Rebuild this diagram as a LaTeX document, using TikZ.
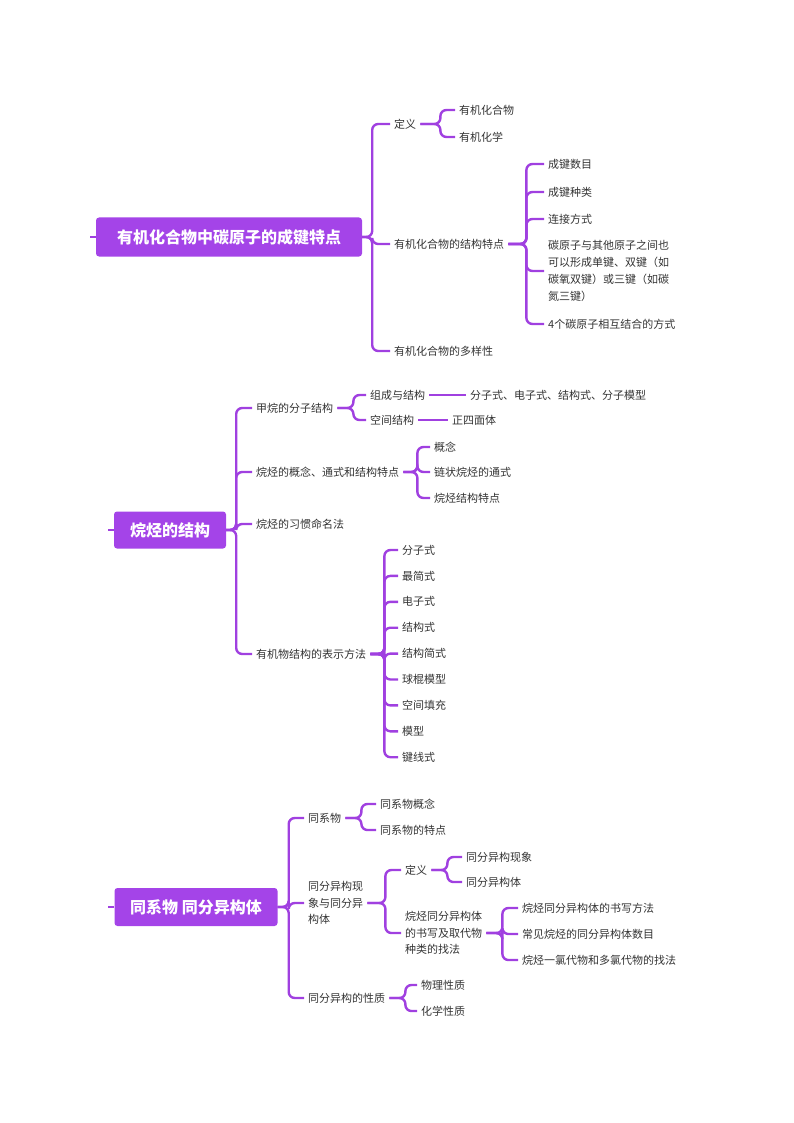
\documentclass[tikz,border=0pt]{standalone}
\usepackage{fontspec}
\setmainfont{Noto Sans CJK SC}
\usetikzlibrary{positioning}
\definecolor{mapPurple}{RGB}{164,68,232}
\definecolor{linkPurple}{RGB}{160,64,224}
\definecolor{leafGray}{RGB}{51,51,51}
\begin{document}
\begin{tikzpicture}[
    x=1pt, y=-1pt,
    every node/.style={font=\fontsize{11}{17}\selectfont, text=leafGray},
    root/.style={fill=mapPurple, rounded corners=3pt, text=white, font=\fontsize{16}{18}\selectfont\bfseries, inner sep=0pt},
    leaf/.style={anchor=west, inner xsep=4pt, inner ysep=2pt},
    multi/.style={leaf, align=left},
    link/.style={draw=linkPurple, line width=2.4pt, rounded corners=6pt},
]
\useasboundingbox (0,0) rectangle (794,1123);
% topic 1
\node[root, minimum width=266, minimum height=39] (R1) at (229,237) {有机化合物中碳原子的成键特点};
\node[leaf] (A1) at (390,124) {定义};
\node[leaf] (A2) at (390,244) {有机化合物的结构特点};
\node[leaf] (A3) at (390,351) {有机化合物的多样性};
\node[leaf] (A1a) at (455,110) {有机化合物};
\node[leaf] (A1b) at (455,137) {有机化学};
\node[leaf] (A2a) at (544,164) {成键数目};
\node[leaf] (A2b) at (544,192) {成键种类};
\node[leaf] (A2c) at (544,219) {连接方式};
\node[multi] (A2d) at (544,271) {碳原子与其他原子之间也\\可以形成单键、双键（如\\碳氧双键）或三键（如碳\\氮三键）};
\node[leaf] (A2e) at (544,324) {4个碳原子相互结合的方式};
\draw[link] (R1.west) -- ++(-6,0);
\foreach \c in {A1,A2,A3} \draw[link] (R1.east) -- ++(10,0) |- (\c.west);
\foreach \c in {A1a,A1b} \draw[link] (A1.east) -- ++(20,0) |- (\c.west);
\foreach \c in {A2a,A2b,A2c,A2d,A2e} \draw[link] (A2.east) -- ++(18,0) |- (\c.west);
% topic 2
\node[root, minimum width=112, minimum height=37] (R2) at (170,530) {烷烃的结构};
\node[leaf] (B1) at (252,408) {甲烷的分子结构};
\node[leaf] (B2) at (252,472) {烷烃的概念、通式和结构特点};
\node[leaf] (B3) at (252,524) {烷烃的习惯命名法};
\node[leaf] (B4) at (252,654) {有机物结构的表示方法};
\node[leaf] (B1a) at (366,395) {组成与结构};
\node[leaf] (B1b) at (366,420) {空间结构};
\node[leaf] (B1c) at (466,395) {分子式、电子式、结构式、分子模型};
\node[leaf] (B1d) at (448,420) {正四面体};
\node[leaf] (B2a) at (430,447) {概念};
\node[leaf] (B2b) at (430,472) {链状烷烃的通式};
\node[leaf] (B2c) at (430,498) {烷烃结构特点};
\draw[link] (R2.west) -- ++(-6,0);
\foreach \c in {B1,B2,B3,B4} \draw[link] (R2.east) -- ++(10,0) |- (\c.west);
\foreach \c in {B1a,B1b} \draw[link] (B1.east) -- ++(16,0) |- (\c.west);
\draw[link] (B1a.east) -- (B1c.west);
\draw[link] (B1b.east) -- (B1d.west);
\foreach \c in {B2a,B2b,B2c} \draw[link] (B2.east) -- ++(14,0) |- (\c.west);
\foreach \t [count=\i] in {分子式,最简式,电子式,结构式,结构简式,球棍模型,空间填充,模型,键线式} {
  \node[leaf] (B4\i) at (398,{550+25.9*(\i-1)}) {\t};
  \draw[link] (B4.east) -- ++(14,0) |- (B4\i.west);
}
% topic 3
\node[root, minimum width=163, minimum height=38] (R3) at (196,907) {同系物\ 同分异构体};
\node[leaf] (C1) at (304,818) {同系物};
\node[multi, font=\fontsize{11}{16.5}\selectfont] (C2) at (304,903) {同分异构现\\象与同分异\\构体};
\node[leaf] (C3) at (304,998) {同分异构的性质};
\node[leaf] (C1a) at (376,804) {同系物概念};
\node[leaf] (C1b) at (376,830) {同系物的特点};
\node[leaf] (C2a) at (401,870) {定义};
\node[multi, font=\fontsize{11}{16.5}\selectfont] (C2b) at (401,933) {烷烃同分异构体\\的书写及取代物\\种类的找法};
\node[leaf] (C2a1) at (462,857) {同分异构现象};
\node[leaf] (C2a2) at (462,882) {同分异构体};
\node[leaf] (C2b1) at (518,908) {烷烃同分异构体的书写方法};
\node[leaf] (C2b2) at (518,934) {常见烷烃的同分异构体数目};
\node[leaf] (C2b3) at (518,960) {烷烃一氯代物和多氯代物的找法};
\node[leaf] (C3a) at (417,985) {物理性质};
\node[leaf] (C3b) at (417,1011) {化学性质};
\draw[link] (R3.west) -- ++(-6,0);
\foreach \c in {C1,C2,C3} \draw[link] (R3.east) -- ++(11,0) |- (\c.west);
\foreach \c in {C1a,C1b} \draw[link] (C1.east) -- ++(16,0) |- (\c.west);
\foreach \c in {C2a,C2b} \draw[link] (C2.east) -- ++(18,0) |- (\c.west);
\foreach \c in {C2a1,C2a2} \draw[link] (C2a.east) -- ++(16,0) |- (\c.west);
\foreach \c in {C2b1,C2b2,C2b3} \draw[link] (C2b.east) -- ++(16,0) |- (\c.west);
\foreach \c in {C3a,C3b} \draw[link] (C3.east) -- ++(16,0) |- (\c.west);
\end{tikzpicture}
\end{document}
